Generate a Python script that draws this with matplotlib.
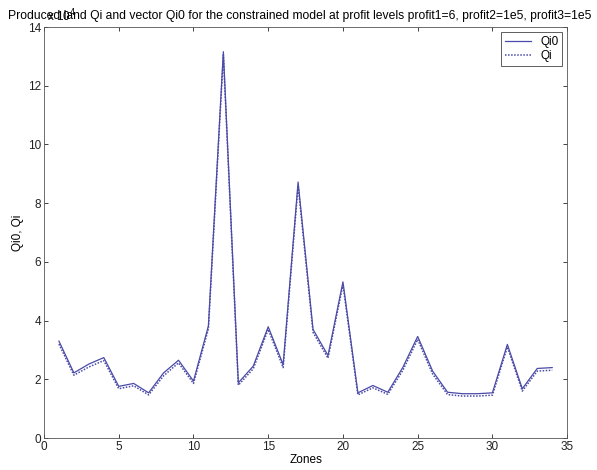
#!/usr/bin/env python3
"""Produced land Qi and vector Qi0 per zone, constrained model."""

import matplotlib

matplotlib.use("Agg")
import matplotlib.pyplot as plt
import numpy as np


ZONES = np.arange(1, 35)

# values in units of 1e4
QI0 = [
    3.30, 2.22, 2.52, 2.74, 1.76, 1.86, 1.54, 2.22, 2.65, 1.94,
    3.82, 13.16, 1.88, 2.45, 3.79, 2.50, 8.72, 3.70, 2.81, 5.32,
    1.54, 1.79, 1.56, 2.40, 3.46, 2.28, 1.56, 1.51, 1.51, 1.54,
    3.19, 1.68, 2.37, 2.40,
]
QI = [
    3.20, 2.14, 2.42, 2.64, 1.68, 1.78, 1.47, 2.12, 2.56, 1.86,
    3.72, 13.05, 1.80, 2.36, 3.70, 2.40, 8.60, 3.60, 2.72, 5.22,
    1.47, 1.71, 1.49, 2.30, 3.36, 2.18, 1.48, 1.43, 1.43, 1.46,
    3.10, 1.60, 2.28, 2.31,
]

TITLE = ("Produced land Qi and vector Qi0 for the constrained model at "
         "profit levels profit1=6, profit2=1e5, profit3=1e5")

LINE_COLOR = "#4a4aa8"


def main() -> None:
    plt.rcParams["font.family"] = ["Liberation Sans", "DejaVu Sans"]
    fig = plt.figure(figsize=(5.97, 4.70), dpi=100)
    ax = fig.add_axes([0.0737, 0.068, 0.8763, 0.8745])

    ax.plot(ZONES, QI0, color=LINE_COLOR, lw=0.9, label="Qi0")
    ax.plot(ZONES, QI, color=LINE_COLOR, lw=1.1, ls=(0, (1, 1)), label="Qi")

    ax.set_xlim(0, 35)
    ax.set_ylim(0, 14)
    ax.set_xticks(np.arange(0, 36, 5))
    ax.set_yticks(np.arange(0, 15, 2))
    ax.tick_params(which="both", direction="in", top=True, right=True,
                   labelsize=8.5, length=3, width=0.6, colors="#222222", pad=2)
    for spine in ax.spines.values():
        spine.set_linewidth(0.6)
        spine.set_color("#555555")

    ax.set_xlabel("Zones", fontsize=8.5, labelpad=1)
    ax.set_ylabel("Qi0, Qi", fontsize=8.5, labelpad=3)
    fig.text(0.5025, 0.966, TITLE, fontsize=8.75, ha="center", va="center")
    ax.text(0.005, 1.006, r"x 10$^4$", transform=ax.transAxes, fontsize=8.5,
            ha="left", va="bottom")

    leg = ax.legend(loc="upper right", fontsize=8.5, handlelength=2.2,
                    borderaxespad=0.45, borderpad=0.3, labelspacing=0.2,
                    fancybox=False, framealpha=1.0, edgecolor="#444444")
    leg.get_frame().set_linewidth(0.6)

    fig.savefig("out.png", dpi=100)
    plt.close(fig)


if __name__ == "__main__":
    main()
